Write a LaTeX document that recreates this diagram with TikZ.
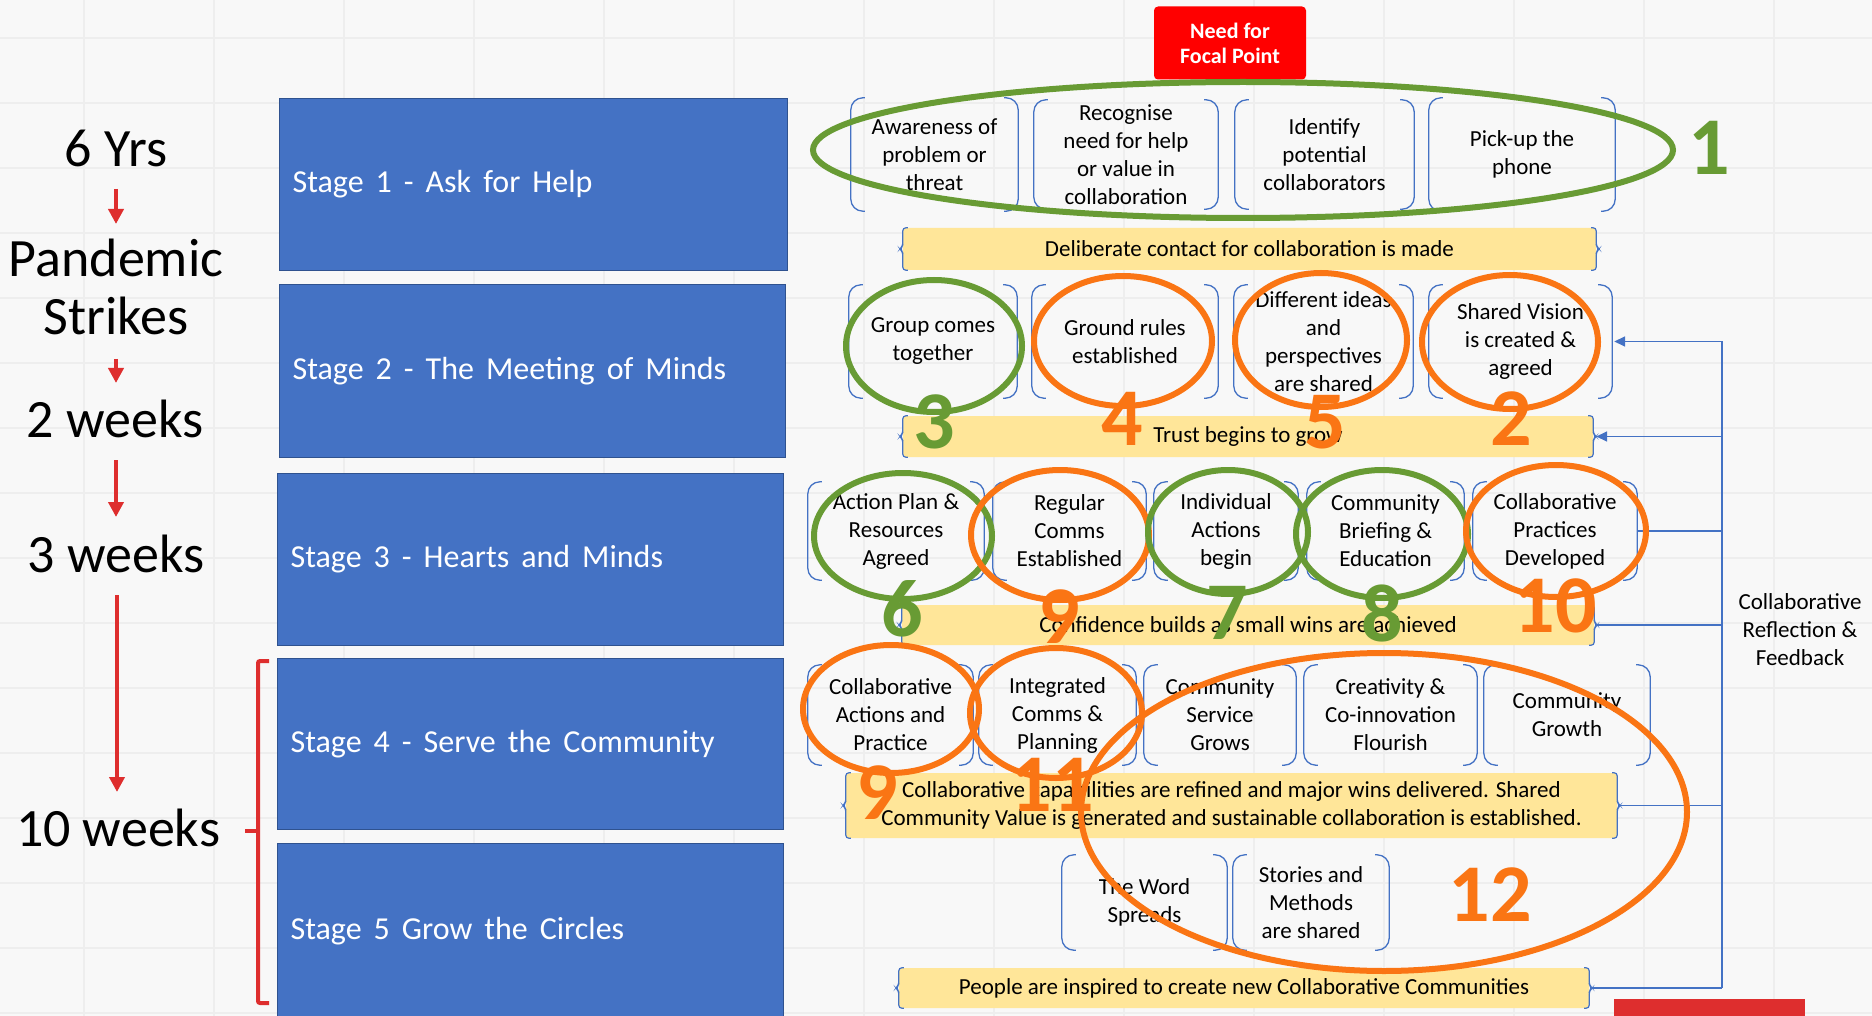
\documentclass[tikz,border=0pt]{standalone}
\usepackage{fontspec}
\setmainfont{Carlito}
\usetikzlibrary{shapes.geometric,arrows.meta}
\definecolor{stageblue}{HTML}{4472C4}
\definecolor{stageedge}{HTML}{2F528F}
\definecolor{ringgreen}{HTML}{689B34}
\definecolor{ringorange}{HTML}{FA7514}
\definecolor{barfill}{HTML}{FFE699}
\definecolor{arrowred}{HTML}{DE2E2E}
\definecolor{needred}{HTML}{FF0000}
\definecolor{bgfill}{HTML}{F8F8F8}
\definecolor{gridline}{HTML}{EEEEEE}
\newcommand\stagefont{\fontsize{32}{38}\selectfont}
\newcommand\widesp{\spaceskip=12pt plus 2pt\relax}
\tikzset{
  itemtxt/.style={align=center, inner sep=0pt, font=\fontsize{23}{28}\selectfont},
  brkline/.style={draw=stageblue, line width=1.3pt, rounded corners=12pt},
  bracebar/.style={draw=stageblue, line width=1.2pt, rounded corners=3pt},
  barbox/.style={fill=barfill, rounded corners=3pt, align=center, inner sep=0pt, font=\fontsize{23}{28}\selectfont},
  stagebox/.style={draw=stageedge, line width=1.2pt, fill=stageblue, anchor=north west, align=left,
     inner sep=13pt, text=white, font=\stagefont},
  timetxt/.style={font=\fontsize{54}{58}\selectfont, align=center, inner sep=0pt},
  redarr/.style={draw=arrowred, line width=3.8pt, -{Triangle[width=15pt,length=15pt]}},
  ring/.style={ellipse, draw, line width=6pt, inner sep=0pt},
  greenring/.style={ring, draw=ringgreen},
  orangering/.style={ring, draw=ringorange},
  numtxt/.style={inner sep=0pt, font=\fontsize{82}{82}\selectfont\bfseries},
  fbline/.style={draw=stageblue, line width=1.6pt},
  fbarrow/.style={fbline, -{Triangle[width=10pt,length=11pt]}},
}
% item with round brackets: name, x1, x2, y1, y2, text
\newcommand\bitem[6]{%
  \node[itemtxt, minimum width={(#3-#2)*1pt}, minimum height={(#5-#4)*1pt}] (#1) at ({(#2+#3)/2},{(#4+#5)/2}) {#6};
  \draw[brkline] ([xshift=14pt]#1.north west) -- (#1.north west) -- (#1.south west) -- ([xshift=14pt]#1.south west);
  \draw[brkline] ([xshift=-14pt]#1.north east) -- (#1.north east) -- (#1.south east) -- ([xshift=-14pt]#1.south east);
}
% yellow bar with braces: name, x1, x2, y1, y2, text
\newcommand\ybar[6]{%
  \node[barbox, minimum width={(#3-#2)*1pt}, minimum height={(#5-#4)*1pt}] (#1) at ({(#2+#3)/2},{(#4+#5)/2}) {#6};
  \draw[bracebar] ([xshift=5pt]#1.north west) -- (#1.north west) -- ([yshift=3pt]#1.west) -- ([xshift=-3pt]#1.west) -- ([yshift=-3pt]#1.west) -- (#1.south west) -- ([xshift=5pt]#1.south west);
  \draw[bracebar] ([xshift=-5pt]#1.north east) -- (#1.north east) -- ([yshift=3pt]#1.east) -- ([xshift=3pt]#1.east) -- ([yshift=-3pt]#1.east) -- (#1.south east) -- ([xshift=-5pt]#1.south east);
}
\begin{document}
\begin{tikzpicture}[x=1pt,y=-1pt]
\useasboundingbox (0,0) rectangle (1872,1016);
\fill[bgfill] (0,0) rectangle (1872,1016);
\foreach \gx in {84,214,...,1872} \draw[gridline, line width=2.5pt] (\gx,0) -- (\gx,1016);
\foreach \gy in {38,103,...,1016} \draw[gridline, line width=2.5pt] (0,\gy) -- (1872,\gy);

% ---- timeline ----
\node[timetxt, anchor=base] (t1) at (116,167) {6 Yrs};
\node[timetxt] (t2) at (116,287) {Pandemic\\Strikes};
\node[timetxt, anchor=base] (t3) at (115,437) {2 weeks};
\node[timetxt, anchor=base] (t4) at (116,572) {3 weeks};
\node[timetxt, anchor=base] (t5) at (118,846) {10 weeks};
\coordinate (a1s) at (116,189); \coordinate (a1e) at (116,224);
\coordinate (a2s) at (116,359); \coordinate (a2e) at (116,383);
\coordinate (a3s) at (116,460); \coordinate (a3e) at (116,517);
\coordinate (a4s) at (117,595); \coordinate (a4e) at (117,792);
\draw[redarr] (a1s) -- (a1e);
\draw[redarr] (a2s) -- (a2e);
\draw[redarr] (a3s) -- (a3e);
\draw[redarr] (a4s) -- (a4e);
\draw[arrowred, line width=4pt, rounded corners=2pt] (269,661) -- (258,661) -- (258,1003) -- (269,1003);
\draw[arrowred, line width=4pt] (258,831) -- (245,831);

% ---- stages ----
\node[stagebox, minimum width=508pt, minimum height=172pt, text width=482pt] (s1) at (279,98) {\widesp Stage 1 - Ask for Help};
\node[stagebox, minimum width=506pt, minimum height=173pt, text width=480pt] (s2) at (279,284) {\widesp Stage 2 - The Meeting of Minds};
\node[stagebox, minimum width=506pt, minimum height=172pt, text width=480pt] (s3) at (277,473) {\widesp Stage 3 - Hearts and Minds};
\node[stagebox, minimum width=506pt, minimum height=171pt, text width=480pt] (s4) at (277,658) {\widesp Stage 4 - Serve the Community};
\node[stagebox, minimum width=506pt, minimum height=175pt, text width=480pt] (s5) at (277,843) {\widesp Stage 5 Grow the Circles};

% ---- need box ----
\node[fill=needred, rounded corners=4pt, minimum width=152pt, minimum height=73pt, align=center, inner sep=0pt,
      text=white, font=\fontsize{22}{25}\selectfont\bfseries] (need) at (1230,43) {Need for\\Focal Point};

% ---- rows ----
\bitem{r1a}{851}{1018}{98}{211}{Awareness of\\problem or\\threat}
\bitem{r1b}{1034}{1218}{100}{209}{Recognise\\need for help\\or value in\\collaboration}
\bitem{r1c}{1235}{1414}{100}{209}{Identify\\potential\\collaborators}
\bitem{r1d}{1429}{1615}{98}{211}{Pick-up the\\phone}
\ybar{y1}{903}{1596}{228}{270}{Deliberate contact for collaboration is made}

\bitem{r2a}{849}{1017}{285}{398}{Group comes\\together}
\bitem{r2b}{1032}{1218}{285}{398}{Ground rules\\established}
\bitem{r2c}{1234}{1413}{285}{398}{Different ideas\\and\\perspectives\\are shared}
\bitem{r2d}{1429}{1612}{285}{398}{Shared Vision\\is created \&\\agreed}
\ybar{y2}{903}{1593}{416}{457}{Trust begins to grow}

\bitem{r3a}{808}{984}{482}{580}{Action Plan \&\\Resources\\Agreed}
\bitem{r3b}{993}{1146}{482}{580}{Regular\\Comms\\Established}
\bitem{r3c}{1154}{1298}{482}{580}{Individual\\Actions\\begin}
\bitem{r3d}{1307}{1464}{482}{580}{Community\\Briefing \&\\Education}
\bitem{r3e}{1473}{1637}{482}{580}{Collaborative\\Practices\\Developed}
\ybar{y3}{902}{1594}{605}{645}{Confidence builds as small wins are achieved}

\bitem{r4a}{808}{973}{665}{765}{Collaborative\\Actions and\\Practice}
\bitem{r4b}{979}{1136}{665}{765}{Integrated\\Comms \&\\Planning}
\bitem{r4c}{1144}{1296}{665}{765}{Community\\Service\\Grows}
\bitem{r4d}{1304}{1477}{665}{765}{Creativity \&\\Co-innovation\\Flourish}
\bitem{r4e}{1484}{1650}{665}{765}{Community\\Growth}
\ybar{y4}{846}{1617}{773}{838}{Collaborative capabilities are refined and major wins delivered.  Shared\\Community Value is generated and sustainable collaboration is established.}

\bitem{r5a}{1062}{1227}{855}{950}{The Word\\Spreads}
\bitem{r5b}{1233}{1389}{855}{950}{Stories and\\Methods\\are shared}
\ybar{y5}{899}{1589}{968}{1008}{People are inspired to create new Collaborative Communities}

% ---- feedback loop ----
\coordinate (fbx) at (1722,0);
\coordinate (fbtop) at (r2d.east -| fbx);
\coordinate (fbbot) at (y5.east -| fbx);
\draw[fbline] (fbtop) -- (fbbot);
\draw[fbarrow] (fbtop) -- ([xshift=2pt]r2d.east);
\draw[fbarrow] (y2.east -| fbx) -- ([xshift=3pt]y2.east);
\draw[fbline] ([xshift=1pt]r3e.east) -- (r3e.east -| fbx);
\draw[fbline] ([xshift=3pt]y3.east) -- (y3.east -| fbx);
\draw[fbline] ([xshift=3pt]y4.east) -- (y4.east -| fbx);
\draw[fbline] ([xshift=3pt]y5.east) -- (fbbot);
\node[itemtxt] (fbtxt) at (1800,630) {Collaborative\\Reflection \&\\Feedback};

\fill[arrowred] (1614,999) rectangle (1805,1016);

% ---- rings ----
\node[greenring, minimum width=860pt, minimum height=136pt] (e1) at (1243,150) {};
\node[greenring, minimum width=176pt, minimum height=132pt] (e3) at (934,346) {};
\node[orangering, minimum width=178pt, minimum height=130pt] (e4) at (1123,341) {};
\node[orangering, minimum width=172pt, minimum height=134pt] (e5) at (1321,340) {};
\node[orangering, minimum width=176pt, minimum height=134pt] (e2) at (1510,342) {};
\node[greenring, minimum width=178pt, minimum height=126pt] (e6) at (903,536) {};
\node[orangering, minimum width=178pt, minimum height=130pt] (e9a) at (1060,535) {};
\node[greenring, minimum width=160pt, minimum height=124pt] (e7) at (1228,532) {};
\node[greenring, minimum width=172pt, minimum height=128pt] (e8) at (1382,534) {};
\node[orangering, minimum width=180pt, minimum height=132pt] (e10) at (1556,531) {};
\node[orangering, minimum width=176pt, minimum height=128pt] (e9b) at (891,709) {};
\node[orangering, minimum width=172pt, minimum height=130pt] (e11) at (1056,713) {};
\node[orangering, minimum width=606pt, minimum height=318pt] (e12) at (1384,812) {};

% ---- numbers ----
\node[numtxt, text=ringgreen] (n1) at (1709,148) {1};
\node[numtxt, text=ringgreen] (n3) at (934,422) {3};
\node[numtxt, text=ringorange] (n4) at (1122,419) {4};
\node[numtxt, text=ringorange] (n5) at (1325,422) {5};
\node[numtxt, text=ringorange] (n2) at (1511,419) {2};
\node[numtxt, text=ringgreen] (n6) at (902,609) {6};
\node[numtxt, text=ringorange] (n9a) at (1059,617) {9};
\node[numtxt, text=ringgreen] (n7) at (1227,613) {7};
\node[numtxt, text=ringgreen] (n8) at (1382,613) {8};
\node[numtxt, text=ringorange] (n10) at (1555,606) {10};
\node[numtxt, text=ringorange] (n9b) at (877,793) {9};
\node[numtxt, text=ringorange] (n11) at (1052,785) {11};
\node[numtxt, text=ringorange] (n12) at (1490,895) {12};
\end{tikzpicture}
\end{document}
